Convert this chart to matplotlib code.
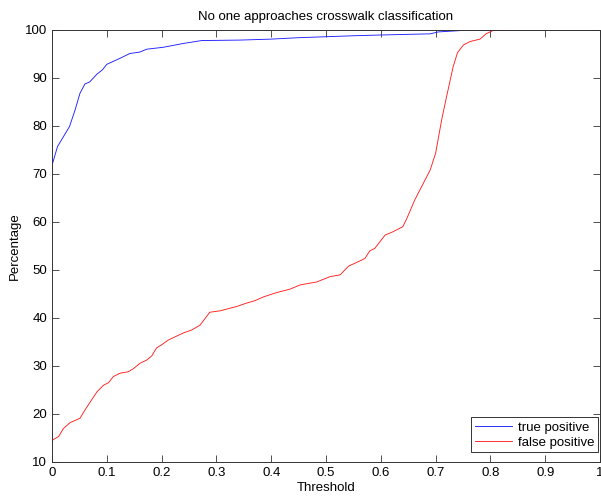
import numpy as np
import matplotlib
matplotlib.use("Agg")
import matplotlib.pyplot as plt

plt.rcParams['font.family'] = ['Liberation Sans', 'DejaVu Sans']

# threshold sweep for the two rates (percent)
tp_threshold = [0.0, 0.01, 0.032, 0.042, 0.051, 0.06, 0.069, 0.082, 0.092, 0.10,
                0.124, 0.142, 0.16, 0.173, 0.203, 0.24, 0.273, 0.343, 0.40, 0.45,
                0.50, 0.55, 0.60, 0.69, 0.705, 0.748, 0.76, 0.85, 1.0]
tp_rate = [71.8, 75.7, 79.9, 83.3, 86.8, 88.75, 89.2, 90.8, 91.7, 92.85,
           94.1, 95.1, 95.4, 96.0, 96.4, 97.2, 97.8, 97.9, 98.1, 98.4,
           98.6, 98.8, 98.96, 99.2, 99.6, 99.9, 100.0, 100.0, 100.0]

fp_threshold = [0.0, 0.003, 0.012, 0.021, 0.033, 0.051, 0.06, 0.072, 0.082, 0.094,
                0.103, 0.112, 0.124, 0.139, 0.148, 0.161, 0.173, 0.182, 0.191, 0.20,
                0.212, 0.24, 0.255, 0.27, 0.288, 0.307, 0.337, 0.355, 0.37, 0.386,
                0.41, 0.434, 0.453, 0.483, 0.507, 0.526, 0.541, 0.562, 0.571, 0.58,
                0.589, 0.608, 0.62, 0.64, 0.647, 0.662, 0.69, 0.70, 0.711, 0.72,
                0.732, 0.74, 0.751, 0.763, 0.781, 0.792, 0.805, 0.85, 1.0]
fp_rate = [14.5, 14.7, 15.3, 17.0, 18.2, 19.1, 20.8, 22.9, 24.6, 26.0,
           26.5, 27.8, 28.5, 28.8, 29.4, 30.6, 31.25, 32.1, 33.8, 34.4,
           35.4, 36.9, 37.5, 38.5, 41.2, 41.5, 42.4, 43.1, 43.6, 44.4,
           45.3, 46.0, 46.9, 47.5, 48.6, 49.0, 50.8, 51.9, 52.4, 54.0,
           54.5, 57.3, 57.85, 59.0, 60.6, 64.6, 70.8, 74.3, 81.25, 86.1,
           92.35, 95.3, 96.9, 97.6, 98.1, 99.2, 99.9, 100.0, 100.0]

x_ticks = np.round(np.arange(0, 1.01, 0.1), 1)
x_labels = ['0', '0.1', '0.2', '0.3', '0.4', '0.5', '0.6', '0.7', '0.8', '0.9', '1']
y_ticks = list(range(10, 101, 10))

fig = plt.figure(figsize=(6.01, 4.99), dpi=100)
ax = fig.add_axes([52 / 601, 37 / 499, 548 / 601, 432 / 499])

ax.plot(tp_threshold, tp_rate, color='#2020ff', lw=0.65, label='true positive')
ax.plot(fp_threshold, fp_rate, color='#ff2020', lw=0.65, label='false positive')

ax.set_xlim(0, 1)
ax.set_ylim(10, 100)
ax.set_xticks(x_ticks)
ax.set_xticklabels(x_labels)
ax.set_yticks(y_ticks)
ax.tick_params(direction='in', top=True, right=True, length=5, width=0.6,
               labelsize=9.5, color='#333333')
for s in ax.spines.values():
    s.set_linewidth(0.7)
    s.set_color('#333333')

ax.set_title('No one approaches crosswalk classification', fontsize=9.5, pad=7)
ax.set_xlabel('Threshold', fontsize=9.5, labelpad=2)
ax.set_ylabel('Percentage', fontsize=9.5, labelpad=3)

leg = ax.legend(loc='lower right', bbox_to_anchor=(0.997, 0.022), fontsize=9.5,
                fancybox=False, framealpha=1, edgecolor='#333333',
                borderaxespad=0, handlelength=2.8, handletextpad=0.45,
                borderpad=0.3, labelspacing=0.2)
leg.get_frame().set_linewidth(0.7)

fig.savefig('out.png', dpi=100)
